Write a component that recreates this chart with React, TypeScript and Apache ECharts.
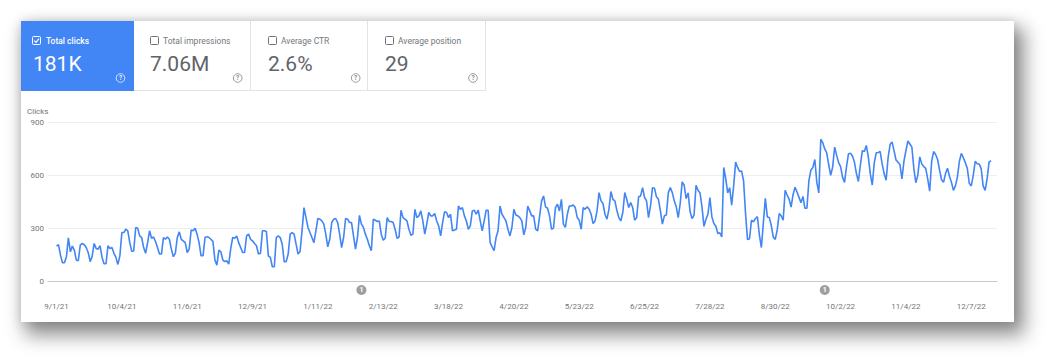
import React, { useEffect, useRef } from "react";
import * as echarts from "echarts";

// ---------- data ----------
const startDate = "9/1/21";
const tickLabels = [
  "9/1/21", "10/4/21", "11/6/21", "12/9/21", "1/11/22", "2/13/22", "3/18/22", "4/20/22",
  "5/23/22", "6/25/22", "7/28/22", "8/30/22", "10/2/22", "11/4/22", "12/7/22",
];
const annotationDates = ["2/2/22", "9/24/22"];
const annotationLabels = ["1", "1"];

const metricNames = ["Total clicks", "Total impressions", "Average CTR", "Average position"];
const metricValues = ["181K", "7.06M", "2.6%", "29"];
const yAxisName = "Clicks";

// daily clicks, Sep 2021 -> Dec 2022
const clicksA = [
  198, 206, 147, 104, 104, 138, 245, 166, 198, 175,
  119, 115, 204, 213, 206, 190, 162, 110, 140, 213,
  185, 181, 200, 134, 98, 98, 200, 185, 190, 157,
  134, 94, 143, 275, 275, 294, 285, 218, 168, 172,
  304, 300, 256, 247, 190, 157, 218, 285, 243, 250,
  224, 190, 153, 153, 247, 237, 250, 237, 181, 138,
  157, 247, 279, 237, 228, 218, 162, 181, 289, 285,
  300, 266, 218, 143, 143, 247, 252,
];
const clicksB = [
  247, 237, 224, 119, 90, 175, 166, 119, 110, 115,
  96, 185, 247, 243, 256, 218, 190, 162, 162, 256,
  266, 237, 228, 213, 200, 153, 157, 285, 285, 281,
  143, 134, 81, 81, 247, 256, 247, 209, 110, 110,
  153, 266, 275, 266, 209, 153, 168, 285, 417, 360,
  304, 275, 247, 218, 285, 355, 351, 341, 323, 266,
  194, 237, 332, 351, 355, 332, 266, 190, 247, 355,
  351, 332, 332, 256, 181, 247,
];
const clicksC = [
  373, 323, 304, 266, 237, 200, 172, 351, 345, 338,
  341, 266, 232, 243, 360, 338, 338, 332, 294, 243,
  250, 402, 360, 351, 341, 294, 260, 266, 407, 360,
  370, 398, 341, 266, 323, 389, 370, 370, 383, 341,
  313,
  256, 332, 394, 389, 360, 379, 285, 289, 294, 426,
  407, 417, 370, 341, 294, 313, 398, 402, 379, 402,
  341, 285, 341, 402, 402, 218, 194, 172, 247, 285,
  426, 379, 360, 341, 294, 256, 304, 407, 375, 370,
  360,
];
const clicksD = [
  341, 262, 304, 426, 398, 370, 370, 294, 285, 370,
  455, 483, 421, 413, 370, 294, 300, 417, 436, 398,
  464, 323, 304, 379, 426, 426, 432, 417, 360, 345,
  294, 417, 407, 421, 407, 379, 326, 341, 398, 502,
  455, 440, 379, 351, 407, 508, 464, 455, 402, 360,
  341, 389, 502, 464, 417, 445, 417, 345, 360, 478,
  483, 530, 474, 455, 360, 426, 530, 527, 478, 464,
  398, 323, 370, 375, 502, 530, 502, 455,
];
const clicksE = [
  421, 360, 440, 563, 544, 468, 500, 393, 355, 374,
  544, 515, 500, 421, 310, 351, 379, 474, 364, 326,
  311, 270, 274, 250, 645, 580, 500, 530, 430, 540,
  675, 645, 622, 625, 570, 383, 235, 240, 345, 336,
  355, 365, 260, 190, 330, 470, 364, 360, 315, 250,
  236, 290, 383, 370, 345, 515, 488, 465, 420, 490,
  532, 505, 475,
  445, 480, 413, 413, 570, 630, 645, 690, 560, 500,
  805, 785, 750, 728, 660, 600,
];
const clicksF = [
  647, 760, 715, 672, 650, 590, 560, 650, 723, 725,
  710, 675, 610, 565, 660, 740, 735, 770, 705, 610,
  545, 670, 728, 730, 735, 665, 610, 572, 700, 775,
  790, 740, 687, 675,
  660, 580, 680, 740, 795, 778, 760, 640, 558, 600,
  705, 665, 650, 640, 580, 510, 680, 735, 718, 690,
  630, 575, 560, 610, 640, 595, 560, 515, 540, 590,
  680, 725, 700, 672, 640, 555, 540, 600, 680, 666,
  664, 640, 540, 515, 580, 675, 683,
];
const clicks = [...clicksA, ...clicksB, ...clicksC, ...clicksD, ...clicksE, ...clicksF];

const yMin = 0;
const yMax = 900;
const yInterval = 300;

// ---------- helpers ----------
function toUTC(s: string) {
  const [m, d, y] = s.split("/").map(Number);
  return Date.UTC(2000 + y, m - 1, d);
}
function dayIndex(s: string) {
  return Math.round((toUTC(s) - toUTC(startDate)) / 86400000);
}

// ---------- layout (card coordinates) ----------
const CARD_W = 993;
const CARD_H = 301;
const layout = {
  tileEdges: [0, 113, 230, 347, 465],
  tileH: 70,
  checkX: [11, 129, 247, 364],
  labelX: [25, 142, 260, 377],
  numberX: [12, 129, 247, 364],
  helpX: [99.5, 216.7, 334.7, 452],
};
const BLUE = "#4285f4";
const FONT = "Roboto, Arial, sans-serif";

export default function App() {
  const ref = useRef<HTMLDivElement>(null);

  useEffect(() => {
    if (!ref.current) return;
    const chart = echarts.init(ref.current, null, { renderer: "svg" });

    const tickIdx = tickLabels.map(dayIndex);
    const labelMap: Record<number, string> = {};
    tickLabels.forEach((t, i) => (labelMap[tickIdx[i]] = t));

    const g: any[] = [];
    g.push({ type: "rect", id: "blue", shape: { x: 0, y: 0, width: layout.tileEdges[1], height: layout.tileH }, style: { fill: BLUE } });
    g.push({
      type: "line", id: "tb",
      shape: { x1: layout.tileEdges[1], y1: layout.tileH - 0.5, x2: layout.tileEdges[4], y2: layout.tileH - 0.5 },
      style: { stroke: "#e3e3e3", lineWidth: 1 },
    });
    layout.tileEdges.slice(2).forEach((x, i) =>
      g.push({
        type: "line", id: "tv" + i,
        shape: { x1: x - 0.5, y1: 0, x2: x - 0.5, y2: layout.tileH },
        style: { stroke: "#e3e3e3", lineWidth: 1 },
      })
    );
    metricNames.forEach((name, i) => {
      const active = i === 0;
      const cx = layout.checkX[i];
      g.push({
        type: "rect", id: "cb" + i,
        shape: { x: cx + 0.5, y: 15.5, width: 8, height: 8, r: 1 },
        style: { fill: "none", stroke: active ? "#fff" : "#6f7378", lineWidth: 1 },
      });
      if (active) {
        g.push({
          type: "polyline", id: "ck",
          shape: { points: [[cx + 2.3, 19.6], [cx + 4, 21.3], [cx + 7, 17.6]] },
          style: { stroke: "#fff", lineWidth: 1.2, fill: "none" },
        });
      }
      g.push({
        type: "text", id: "lb" + i, x: layout.labelX[i], y: 19.5,
        style: {
          text: name, fill: active ? "#fff" : "#73777c", fontSize: 8.5, fontFamily: FONT,
          fontWeight: active ? 500 : 400, verticalAlign: "middle",
        },
      });
      g.push({
        type: "text", id: "nv" + i, x: layout.numberX[i], y: 42.5,
        style: {
          text: metricValues[i], fill: active ? "#fff" : "#5f6368", fontSize: 21, fontFamily: FONT,
          verticalAlign: "middle",
        },
      });
      g.push({
        type: "circle", id: "hc" + i,
        shape: { cx: layout.helpX[i], cy: 57, r: 4.3 },
        style: { fill: "none", stroke: active ? "rgba(255,255,255,0.85)" : "#8a8e93", lineWidth: 0.9 },
      });
      g.push({
        type: "text", id: "hq" + i, x: layout.helpX[i], y: 57.3,
        style: {
          text: "?", fill: active ? "rgba(255,255,255,0.9)" : "#8a8e93", fontSize: 6.5, fontFamily: FONT,
          fontWeight: 700, align: "center", verticalAlign: "middle",
        },
      });
    });
    g.push({
      type: "text", id: "yname", x: 6, y: 90,
      style: { text: yAxisName, fill: "#757575", fontSize: 8, fontFamily: FONT, verticalAlign: "middle" },
    });

    const option: any = {
      animation: false,
      textStyle: { fontFamily: FONT },
      grid: { left: 27, right: 17, top: 101.5, bottom: 41, containLabel: false },
      xAxis: {
        type: "value",
        min: -4.3,
        max: clicks.length + 2,
        axisLine: { show: true, lineStyle: { color: "#c8c8c8", width: 1 } },
        axisTick: { show: false },
        splitLine: { show: false },
        axisLabel: {
          customValues: tickIdx,
          formatter: (v: number) => labelMap[v] ?? "",
          color: "#757575",
          fontSize: 8,
          margin: 21,
          fontFamily: FONT,
        },
      },
      yAxis: {
        type: "value",
        min: yMin,
        max: yMax,
        interval: yInterval,
        axisLine: { show: false },
        axisTick: { show: false },
        splitLine: { show: true, lineStyle: { color: "#eeeeee", width: 1 } },
        axisLabel: { color: "#757575", fontSize: 8, margin: 4, fontFamily: FONT },
      },
      series: [
        {
          type: "line",
          data: clicks.map((v, i) => [i, v]),
          showSymbol: false,
          symbol: "none",
          silent: true,
          lineStyle: { color: BLUE, width: 1.6 },
        },
      ],
      graphic: g,
    };
    chart.setOption(option);

    // annotation markers positioned on the x scale
    const ann: any[] = [];
    annotationDates.forEach((d, i) => {
      const px = chart.convertToPixel({ xAxisIndex: 0 }, dayIndex(d)) as number;
      ann.push({
        type: "circle", id: "ac" + i,
        shape: { cx: px, cy: 269, r: 5 },
        style: { fill: "#9e9e9e" },
      });
      ann.push({
        type: "text", id: "at" + i, x: px, y: 269.3,
        style: {
          text: annotationLabels[i], fill: "#fff", fontSize: 7, fontWeight: 700, fontFamily: FONT,
          align: "center", verticalAlign: "middle",
        },
      });
    });
    chart.setOption({ graphic: [...g, ...ann] });

    return () => chart.dispose();
  }, []);

  return (
    <div
      style={{
        position: "fixed", left: 0, top: 0, width: 1058, height: 364,
        background: "#fff", overflow: "hidden",
      }}
    >
      <div
        style={{
          position: "absolute", left: 21, top: 21, width: CARD_W, height: CARD_H, background: "#fff",
          boxShadow: "7px 10px 18px 3px rgba(0,0,0,0.45), 0 0 10px rgba(0,0,0,0.12)",
        }}
      >
        <div ref={ref} style={{ width: CARD_W, height: CARD_H }} />
      </div>
    </div>
  );
}
